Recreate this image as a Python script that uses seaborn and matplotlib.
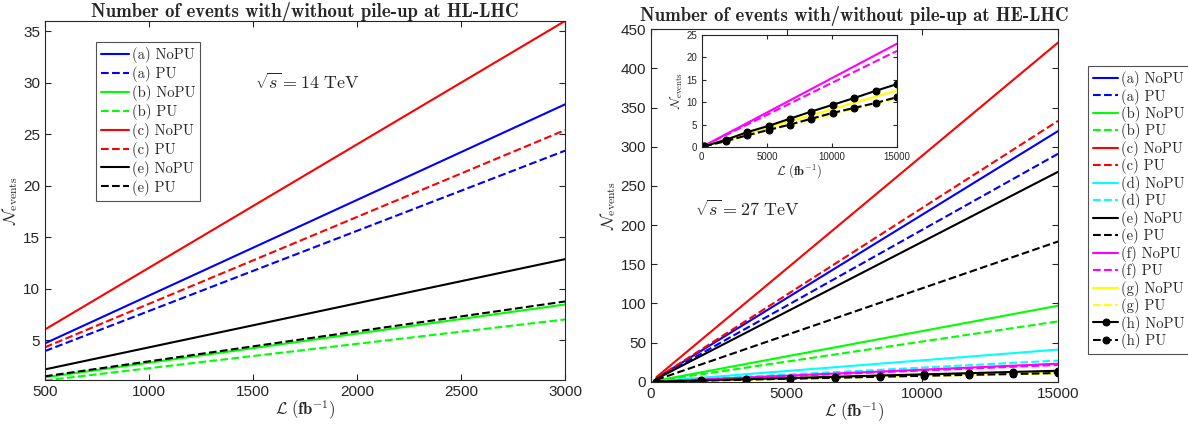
import numpy as np
import pandas as pd
import matplotlib
matplotlib.use("Agg")
import matplotlib.pyplot as plt
import seaborn as sns

# ---------------- data ----------------
# HL-LHC (left panel), luminosity endpoints
lumi_hl = [500, 3000]
hl_a_nopu = [4.68, 27.9]
hl_a_pu = [3.93, 23.4]
hl_b_nopu = [1.38, 8.46]
hl_b_pu = [1.08, 7.0]
hl_c_nopu = [6.03, 36.0]
hl_c_pu = [4.3, 25.4]
hl_e_nopu = [2.15, 12.86]
hl_e_pu = [1.48, 8.75]

# HE-LHC (right panel)
lumi_he = [200, 15000]
he_a_nopu = [4.3, 320]
he_a_pu = [3.9, 291]
he_b_nopu = [1.3, 97]
he_b_pu = [1.0, 77]
he_c_nopu = [5.8, 433]
he_c_pu = [4.4, 333]
he_d_nopu = [0.5, 41]
he_d_pu = [0.4, 27]
he_e_nopu = [3.6, 268]
he_e_pu = [2.4, 179]
he_f_nopu = [0.3, 23.0]
he_f_pu = [0.3, 21.4]
he_g_nopu = [0.2, 12.6]
he_g_pu = [0.15, 10.9]
lumi_h = [200, 1844, 3489, 5133, 6778, 8422, 10067, 11711, 13356, 15000]
he_h_nopu = [0.15, 1.6, 3.3, 4.7, 6.3, 7.9, 9.4, 10.9, 12.5, 14.0]
he_h_pu = [0.15, 1.3, 2.6, 3.8, 5.0, 6.3, 7.6, 8.7, 9.8, 11.1]

hl_series = [
    ("(a) NoPU", hl_a_nopu, "#0000ff", "-"),
    ("(a) PU", hl_a_pu, "#0000ff", "--"),
    ("(b) NoPU", hl_b_nopu, "#00ff00", "-"),
    ("(b) PU", hl_b_pu, "#00ff00", "--"),
    ("(c) NoPU", hl_c_nopu, "#ff0000", "-"),
    ("(c) PU", hl_c_pu, "#ff0000", "--"),
    ("(e) NoPU", hl_e_nopu, "#000000", "-"),
    ("(e) PU", hl_e_pu, "#000000", "--"),
]
he_series = [
    ("(a) NoPU", lumi_he, he_a_nopu, "#0000ff", "-", None),
    ("(a) PU", lumi_he, he_a_pu, "#0000ff", "--", None),
    ("(b) NoPU", lumi_he, he_b_nopu, "#00ff00", "-", None),
    ("(b) PU", lumi_he, he_b_pu, "#00ff00", "--", None),
    ("(c) NoPU", lumi_he, he_c_nopu, "#ff0000", "-", None),
    ("(c) PU", lumi_he, he_c_pu, "#ff0000", "--", None),
    ("(d) NoPU", lumi_he, he_d_nopu, "#00ffff", "-", None),
    ("(d) PU", lumi_he, he_d_pu, "#00ffff", "--", None),
    ("(e) NoPU", lumi_he, he_e_nopu, "#000000", "-", None),
    ("(e) PU", lumi_he, he_e_pu, "#000000", "--", None),
    ("(f) NoPU", lumi_he, he_f_nopu, "#ff00ff", "-", None),
    ("(f) PU", lumi_he, he_f_pu, "#ff00ff", "--", None),
    ("(g) NoPU", lumi_he, he_g_nopu, "#ffff00", "-", None),
    ("(g) PU", lumi_he, he_g_pu, "#ffff00", "--", None),
    ("(h) NoPU", lumi_h, he_h_nopu, "#000000", "-", "o"),
    ("(h) PU", lumi_h, he_h_pu, "#000000", "--", "o"),
]
inset_labels = ["(f) NoPU", "(f) PU", "(g) NoPU", "(g) PU", "(h) NoPU", "(h) PU"]

# ---------------- style ----------------
sns.set_style("ticks")
plt.rcParams["font.family"] = ["Liberation Sans", "DejaVu Sans"]
plt.rcParams["mathtext.fontset"] = "cm"
axcol = "#262626"
LW = 1.5

fig = plt.figure(figsize=(11.88, 4.32), dpi=100)
axL = fig.add_axes([45 / 1188, 1 - 380 / 432, 520 / 1188, 359 / 432])
axR = fig.add_axes([651 / 1188, 1 - 381.7 / 432, 407 / 1188, 352.4 / 432])
axI = fig.add_axes([701.7 / 1188, 1 - 147 / 432, 195.3 / 1188, 112.3 / 432])


def style_axes(ax, fs):
    for s in ax.spines.values():
        s.set_visible(True)
        s.set_color(axcol)
        s.set_linewidth(0.8)
    ax.tick_params(direction="in", top=True, right=True, bottom=True,
                   left=True, labelsize=fs, colors=axcol, length=4,
                   width=0.8)


# ---- left panel ----
for lab, y, c, ls in hl_series:
    df = pd.DataFrame({"x": lumi_hl, "y": y})
    sns.lineplot(data=df, x="x", y="y", ax=axL, color=c, linestyle=ls,
                 linewidth=LW, label=lab, legend=False)
axL.set_xlim(500, 3000)
axL.set_ylim(1.12, 36)
axL.set_xticks([500, 1000, 1500, 2000, 2500, 3000])
axL.set_yticks([5, 10, 15, 20, 25, 30, 35])
style_axes(axL, 11)
axL.set_title("Number of events with/without pile-up at HL-LHC",
              fontfamily="cmb10", fontsize=13.5, pad=3)
axL.set_xlabel(r"$\mathcal{L}\ (\mathbf{fb}^{-1})$", fontsize=12, labelpad=0)
axL.set_ylabel(r"$\mathcal{N}_{\rm events}$", fontsize=12, labelpad=2)
axL.text(1510, 30, r"$\sqrt{s} = 14\ \mathrm{TeV}$", fontsize=13,
         ha="left", va="center")
hL, lL = axL.get_legend_handles_labels()
legL = fig.legend(hL, lL, loc="upper left",
                  bbox_to_anchor=(96 / 1188, 1 - 42 / 432),
                  prop={"family": "cmr10", "size": 10.5}, frameon=True,
                  fancybox=False, edgecolor=axcol, handlelength=1.9,
                  handletextpad=0.2, labelspacing=0.2, borderpad=0.35,
                  borderaxespad=0)
legL.get_frame().set_linewidth(0.8)

# ---- right panel ----
for lab, x, y, c, ls, mk in he_series:
    targets = [axR] + ([axI] if lab in inset_labels else [])
    for ax in targets:
        df = pd.DataFrame({"x": x, "y": y})
        kw = {}
        if mk:
            kw = dict(marker="o", markersize=5, markeredgecolor=c,
                      markerfacecolor=c)
        sns.lineplot(data=df, x="x", y="y", ax=ax, color=c, linestyle=ls,
                     linewidth=LW, label=lab, legend=False, **kw)

axR.set_xlim(0, 15000)
axR.set_ylim(0, 450)
axR.set_xticks([0, 5000, 10000, 15000])
axR.set_yticks(np.arange(0, 451, 50))
style_axes(axR, 11)
axR.set_title("Number of events with/without pile-up at HE-LHC",
              fontfamily="cmb10", fontsize=13.5, pad=6)
axR.set_xlabel(r"$\mathcal{L}\ (\mathbf{fb}^{-1})$", fontsize=12, labelpad=0)
axR.set_ylabel(r"$\mathcal{N}_{\rm events}$", fontsize=12, labelpad=2)
axR.text(1620, 219, r"$\sqrt{s} = 27\ \mathrm{TeV}$", fontsize=13,
         ha="left", va="center")

axI.set_xlim(0, 15000)
axI.set_ylim(0, 25)
axI.set_xticks([0, 5000, 10000, 15000])
axI.set_yticks([0, 5, 10, 15, 20, 25])
style_axes(axI, 7)
axI.tick_params(length=3)
axI.set_xlabel(r"$\mathcal{L}\ (\mathbf{fb}^{-1})$", fontsize=9, labelpad=0)
axI.set_ylabel(r"$\mathcal{N}_{\rm events}$", fontsize=9, labelpad=1)
axI.set_facecolor("white")

hR, lR = axR.get_legend_handles_labels()
legR = fig.legend(hR, lR, loc="upper left",
                  bbox_to_anchor=(1088 / 1188, 1 - 66 / 432),
                  prop={"family": "cmr10", "size": 10.5}, frameon=True,
                  fancybox=False, edgecolor=axcol, handlelength=1.7,
                  handletextpad=0.2, labelspacing=0.1, borderpad=0.35,
                  borderaxespad=0)
legR.get_frame().set_linewidth(0.8)

fig.savefig("out.png", dpi=100)
